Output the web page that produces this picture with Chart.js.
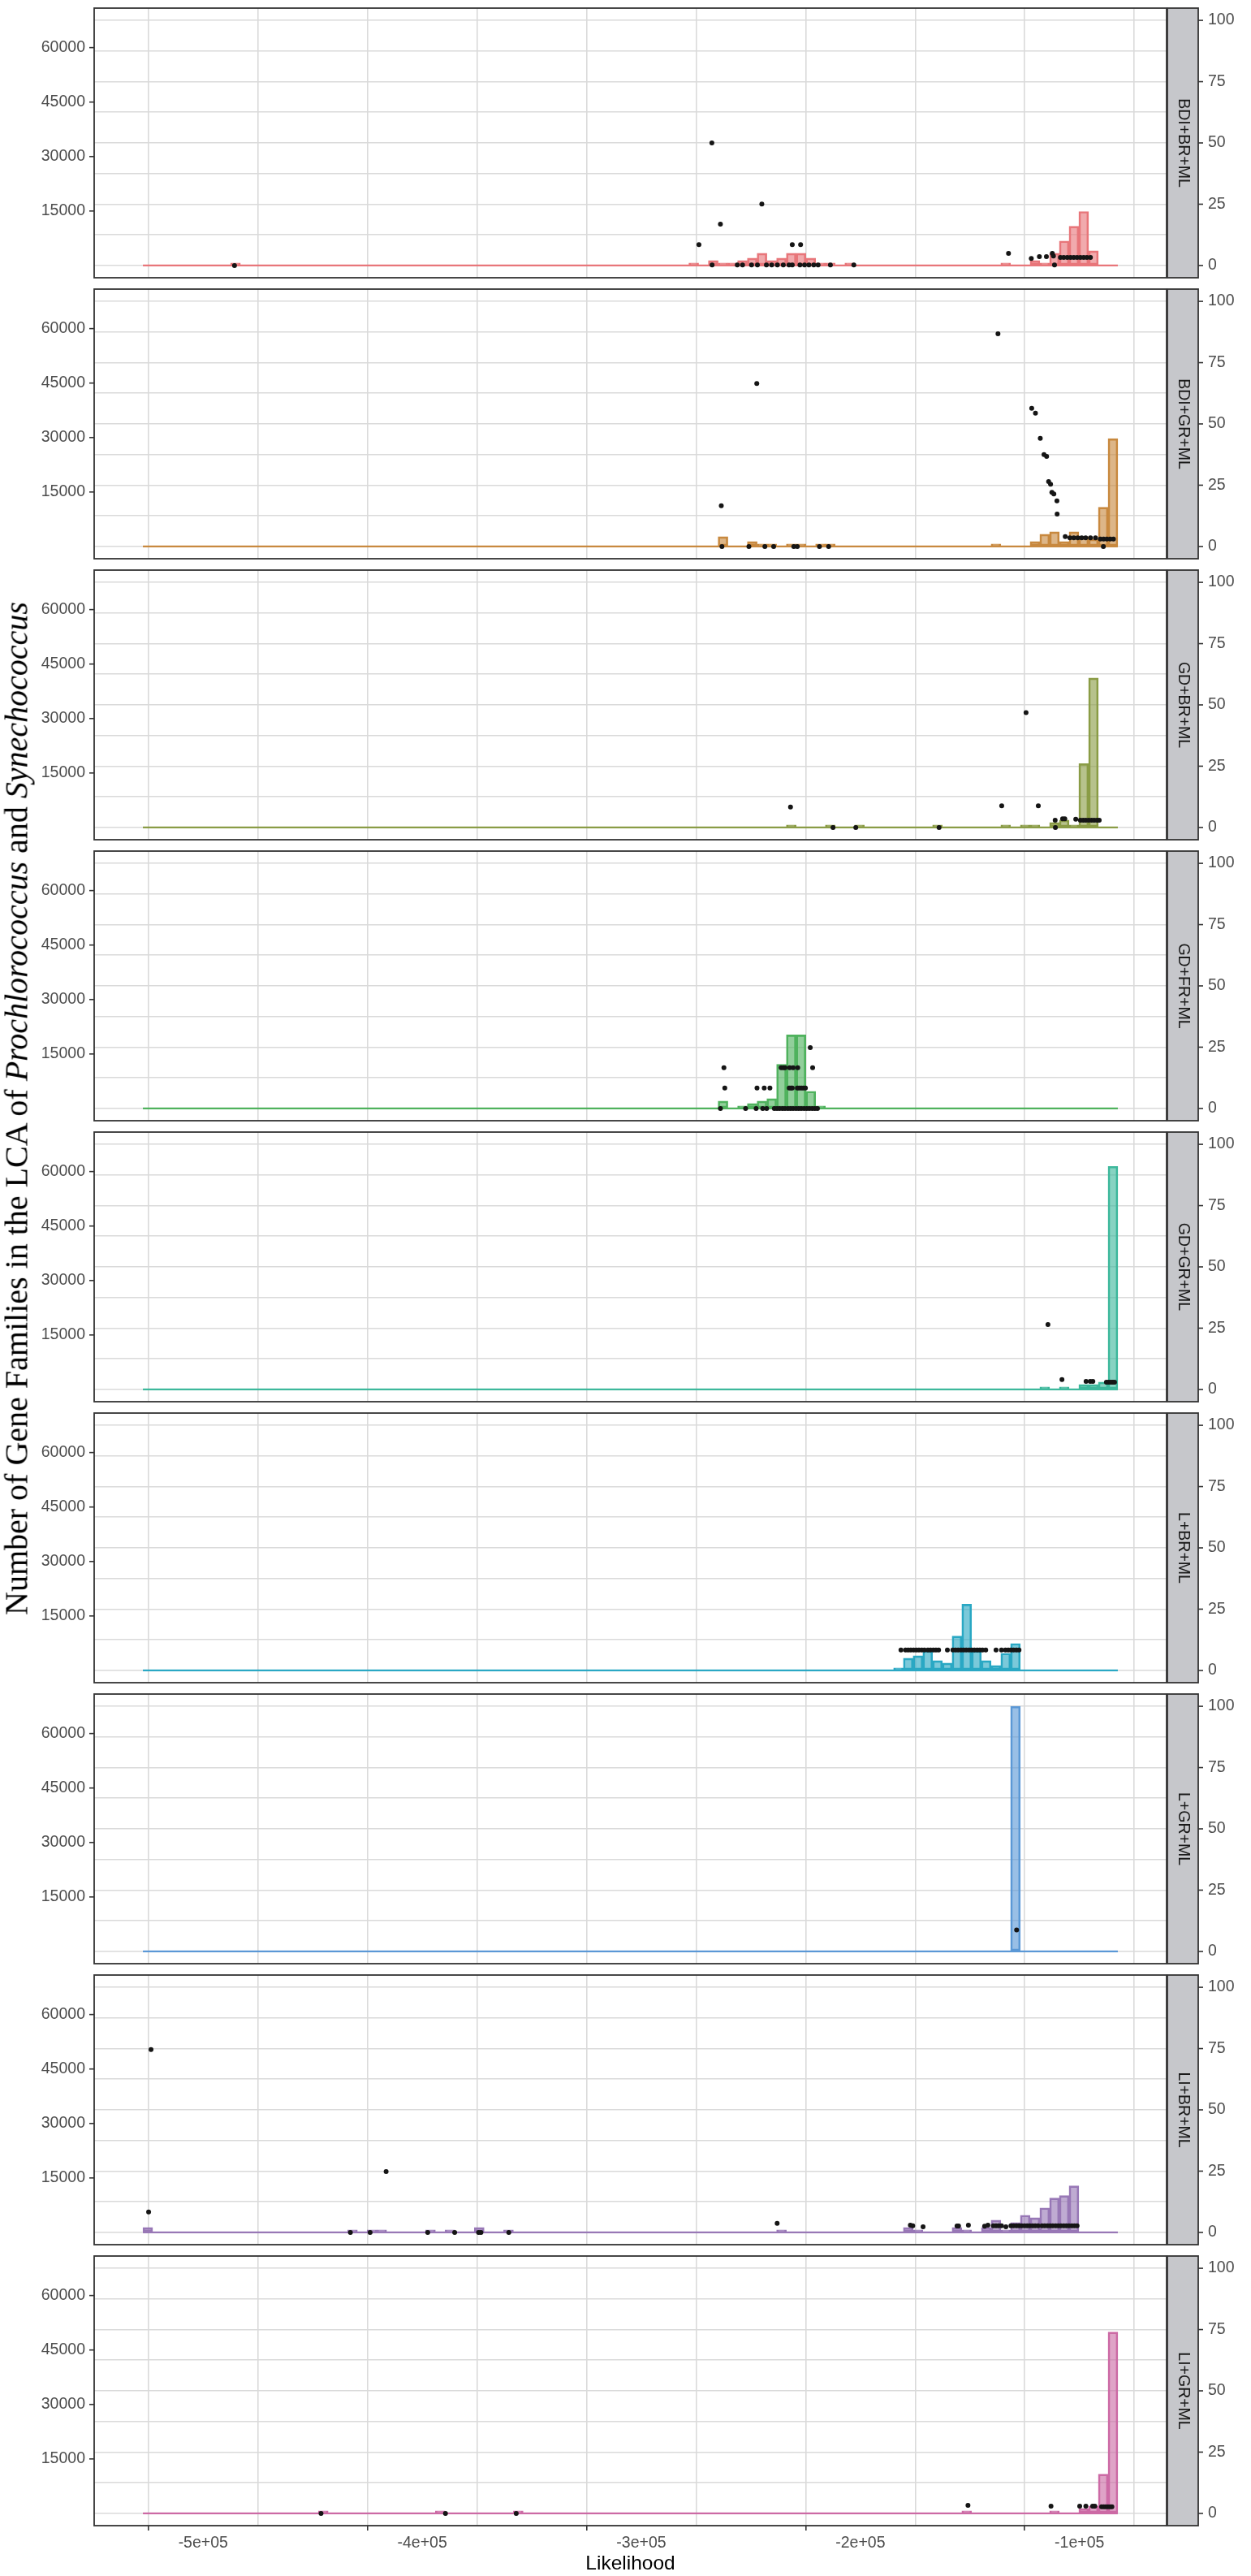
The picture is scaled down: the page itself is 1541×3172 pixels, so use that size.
<!DOCTYPE html>
<html>
<head>
<meta charset="utf-8">
<script src="https://cdn.jsdelivr.net/npm/chart.js@4.4.1/dist/chart.umd.min.js"></script>
<style>
  html, body { margin: 0; padding: 0; background: #fff; }
  #page { position: relative; width: 1541px; height: 3172px; overflow: hidden; }
  #page canvas { position: absolute; left: 0; }
  #ytitle {
    position: absolute; left: 20px; top: 1365px; z-index: 5;
    transform: translate(-50%, -50%) rotate(-90deg);
    white-space: nowrap; font: 40px 'Liberation Serif', 'Times New Roman', serif; color: #000;
  }
</style>
</head>
<body>
<div id="page">
  <div id="ytitle">Number of Gene Families in the LCA of <i>Prochlorococcus</i> and <i>Synechococcus</i></div>
</div>
<script>
// histogram bins (likelihood)
const histStart = -527500;
const binWidth = 4450;
const binCount = 100;

const panelNames = ['BDI+BR+ML', 'BDI+GR+ML', 'GD+BR+ML', 'GD+FR+ML', 'GD+GR+ML',
                    'L+BR+ML', 'L+GR+ML', 'LI+BR+ML', 'LI+GR+ML'];

const xTicks = [-500000, -400000, -300000, -200000, -100000];
const xTickLabels = ['-5e+05', '-4e+05', '-3e+05', '-2e+05', '-1e+05'];
const xMinorTicks = [-450000, -350000, -250000, -150000];
const rightTicks = [0, 25, 50, 75, 100];
const rightMinorTicks = [12.5, 37.5, 62.5, 87.5];
const leftTicks = [15000, 30000, 45000, 60000];

// histogram counts: [bin index, count]
const barsBdiBr = [[9,1],[56,1],[58,2],[59,1],[60,1],[61,2],[62,3],[63,5],[64,2],[65,3],[66,5],[67,5],
  [68,3],[69,1],[70,1],[72,1],[88,1],[91,2],[92,1],[93,5],[94,10],[95,16],[96,22],[97,6]];
const barsBdiGr = [[59,4],[62,2],[63,1],[64,1],[66,1],[67,1],[69,1],[70,1],[87,1],[91,2],[92,5],[93,6],
  [94,2],[95,6],[96,4],[97,3],[98,16],[99,44]];
const barsGdBr = [[66,1],[70,1],[73,1],[81,1],[88,1],[90,1],[91,1],[93,2],[94,3],[95,1],[96,26],[97,61]];
const barsGdFr = [[59,3],[61,1],[62,2],[63,3],[64,4],[65,18],[66,30],[67,30],[68,7],[69,1]];
const barsGdGr = [[92,1],[94,1],[96,2],[97,2],[98,3],[99,91]];
const barsLBr = [[77,1],[78,5],[79,6],[80,8],[81,4],[82,3],[83,14],[84,27],[85,8],[86,4],[87,2],[88,7],[89,11]];
const barsLGr = [[89,100]];
const barsLiBr = [[0,2],[21,1],[23,1],[24,1],[29,1],[31,1],[34,2],[37,1],[65,1],[78,2],[79,1],[83,2],[84,1],
  [86,2],[87,5],[88,1],[89,4],[90,7],[91,6],[92,10],[93,14],[94,15],[95,19]];
const barsLiGr = [[18,1],[30,1],[38,1],[84,1],[93,1],[96,2],[97,3],[98,16],[99,74]];

// gene families: [likelihood, number of gene families]
const ptsBdiBr = [[-485700,0],[-273700,5760],[-267800,33750],[-267700,150],[-263900,11370],[-245000,16910],
  [-231100,5760],[-227300,5760],[-256200,150],[-253800,150],[-249700,150],[-247000,150],[-242900,150],
  [-240500,150],[-237900,150],[-235200,150],[-232600,150],[-231100,150],[-227600,150],[-225500,150],
  [-223500,150],[-221300,150],[-219300,150],[-213700,150],[-203000,150],[-132400,3320],[-122000,1920],
  [-118300,2440],[-115100,2440],[-112400,3320],[-111400,150],[-111900,2580],[-108700,2215],[-107200,2215],
  [-105600,2215],[-104100,2215],[-102600,2215],[-101100,2215],[-99600,2215],[-98100,2215],[-96600,2215],
  [-95000,2215]];
const ptsBdiGr = [[-263500,11225],[-263200,0],[-247300,44900],[-250900,0],[-243600,0],[-239600,0],
  [-230400,0],[-228800,0],[-218700,0],[-214500,0],[-137200,58560],[-121800,38030],[-120100,36700],
  [-117900,29760],[-116200,25330],[-115000,24810],[-114100,17870],[-113200,17130],[-112600,14920],
  [-111700,14470],[-110300,12550],[-110200,8940],[-106500,2730],[-104400,2360],[-102600,2360],
  [-100800,2360],[-99000,2360],[-97200,2360],[-95000,2360],[-92700,2360],[-90500,2070],[-89000,2070],
  [-87500,2070],[-86000,2070],[-84500,2070],[-89100,0]];
const ptsGdBr = [[-231900,5610],[-212500,0],[-202100,0],[-164100,0],[-135500,5980],[-124400,31610],
  [-118800,5980],[-111100,1990],[-111000,0],[-107700,2360],[-106700,2360],[-101700,2290],[-99600,1990],
  [-98300,1990],[-97100,1990],[-95800,1990],[-94500,1990],[-93300,1990],[-92000,1990],[-91000,1990]];
const ptsGdFr = [[-262300,11225],[-261900,5610],[-263900,0],[-252400,0],[-247600,0],[-244600,0],
  [-242800,0],[-247200,5610],[-243900,5610],[-241300,5610],[-239300,0],[-238100,0],[-236900,0],
  [-235600,0],[-234400,0],[-233100,0],[-231900,0],[-230700,0],[-229400,0],[-228200,0],[-227000,0],
  [-225700,0],[-224500,0],[-223300,0],[-222000,0],[-220800,0],[-219600,0],[-236200,11225],
  [-235200,11225],[-234400,11225],[-232300,11225],[-230700,11225],[-228600,11225],[-232500,5610],
  [-231700,5610],[-231100,5610],[-228800,5610],[-228000,5610],[-227000,5610],[-226100,5610],
  [-225100,5610],[-222900,16760],[-221800,11225]];
const ptsGdGr = [[-114400,17870],[-108000,2730],[-97000,2215],[-95100,2215],[-93900,2215],[-87700,1990],
  [-86700,1990],[-85700,1990],[-84800,1990],[-84000,1990]];
const ptsLBr = [[-181500,5610],[-179400,5610],[-178200,5610],[-177000,5610],[-175700,5610],[-174500,5610],
  [-173300,5610],[-172000,5610],[-170800,5610],[-169200,5610],[-168000,5610],[-166700,5610],
  [-165500,5610],[-164300,5610],[-160300,5610],[-157800,5610],[-156600,5610],[-155400,5610],
  [-154100,5610],[-152900,5610],[-151700,5610],[-150400,5610],[-149200,5610],[-148000,5610],
  [-146700,5610],[-145500,5610],[-144300,5610],[-142800,5610],[-138100,5610],[-135600,5610],
  [-133800,5610],[-132500,5610],[-131300,5610],[-130100,5610],[-128800,5610],[-127600,5610]];
const ptsLGr = [[-128700,5930]];
const ptsLiBr = [[-523800,50370],[-524900,5610],[-432800,0],[-423800,0],[-416500,16760],[-397500,0],
  [-385200,0],[-374300,0],[-373200,0],[-360500,0],[-238000,2500],[-177200,1990],[-176100,1850],
  [-171400,1550],[-155900,1770],[-155200,1770],[-150700,1990],[-143300,1700],[-141800,1990],
  [-139300,1850],[-138100,1850],[-136900,1850],[-135600,1850],[-133600,1550],[-131300,1850],
  [-130100,1850],[-128800,1850],[-127600,1850],[-126400,1850],[-125100,1850],[-123900,1850],
  [-122700,1850],[-121400,1850],[-120200,1850],[-118900,1850],[-117100,1850],[-115900,1850],
  [-114600,1850],[-113400,1850],[-112200,1850],[-110900,1850],[-109700,1850],[-108500,1850],
  [-107200,1850],[-106000,1850],[-104800,1850],[-103500,1850],[-102300,1850],[-101100,1850]];
const ptsLiGr = [[-446200,0],[-389400,0],[-357100,0],[-150900,2215],[-113000,1990],[-99900,1990],
  [-97100,1990],[-94000,1990],[-93000,1990],[-89900,1850],[-88900,1850],[-88000,1850],[-87000,1850],
  [-86000,1850],[-85200,1850]];

const panelBars = [barsBdiBr, barsBdiGr, barsGdBr, barsGdFr, barsGdGr, barsLBr, barsLGr, barsLiBr, barsLiGr];
const panelPoints = [ptsBdiBr, ptsBdiGr, ptsGdBr, ptsGdFr, ptsGdGr, ptsLBr, ptsLGr, ptsLiBr, ptsLiGr];
const panelColors = ['#e8767a', '#c8893f', '#8a9c46', '#4fb25d', '#3db89c', '#2aa8c4', '#5b98d6', '#9878b6', '#cc6aa5'];

// secondary (left) axis is the bar axis scaled by this factor
const leftFactor = 675;
const rightMin = -5, rightMax = 105;

const STRIP_W = 39;      // facet strip width
const TICK_LEN = 6;
const LABEL_FONT = "19.5px 'Liberation Sans', Arial, sans-serif";

Chart.defaults.font.family = "'Liberation Sans', Arial, sans-serif";
Chart.defaults.font.size = 19.5;
Chart.defaults.color = '#4d4d4d';

function rgba(hex, a) {
  const n = parseInt(hex.slice(1), 16);
  return 'rgba(' + (n >> 16) + ',' + ((n >> 8) & 255) + ',' + (n & 255) + ',' + a + ')';
}

function binSeries(bars) {
  const counts = new Array(binCount).fill(0);
  bars.forEach(function (b) { counts[b[0]] = b[1]; });
  return counts.map(function (n, i) { return { x: histStart + (i + 0.5) * binWidth, y: n }; });
}

// panel border, facet strip, and the y tick marks / labels on both sides
const panelFrame = {
  id: 'panelFrame',
  afterDraw(chart, args, opts) {
    const ctx = chart.ctx, a = chart.chartArea, ys = chart.scales.y, yl = chart.scales.yL;
    const sl = a.right + 1, sr = a.right + STRIP_W;
    ctx.save();
    ctx.fillStyle = '#c6c7cb';
    ctx.fillRect(sl, a.top, sr - sl, a.bottom - a.top);
    ctx.lineWidth = 1.8;
    ctx.strokeStyle = '#333333';
    ctx.strokeRect(a.left, a.top, a.right - a.left, a.bottom - a.top);
    ctx.strokeRect(sl, a.top, sr - sl, a.bottom - a.top);

    ctx.lineWidth = 1.6;
    ctx.font = LABEL_FONT;
    ctx.fillStyle = '#4d4d4d';
    ctx.textBaseline = 'middle';
    ctx.textAlign = 'left';
    rightTicks.forEach(function (v) {
      const py = ys.getPixelForValue(v);
      ctx.beginPath(); ctx.moveTo(sr, py); ctx.lineTo(sr + TICK_LEN, py); ctx.stroke();
      ctx.fillText(String(v), sr + TICK_LEN + 6, py);
    });
    ctx.textAlign = 'right';
    leftTicks.forEach(function (v) {
      const py = yl.getPixelForValue(v);
      ctx.beginPath(); ctx.moveTo(a.left - TICK_LEN, py); ctx.lineTo(a.left, py); ctx.stroke();
      ctx.fillText(String(v), a.left - TICK_LEN - 5, py);
    });

    ctx.translate((sl + sr) / 2, (a.top + a.bottom) / 2);
    ctx.rotate(Math.PI / 2);
    ctx.fillStyle = '#1a1a1a';
    ctx.textAlign = 'center';
    ctx.fillText(opts.label, 0, 0);
    ctx.restore();
  }
};

const page = document.getElementById('page');
const gridColor = '#dadada';
const tickMarkColor = '#333333';

panelNames.forEach(function (name, p) {
  const last = p === panelNames.length - 1;
  const canvas = document.createElement('canvas');
  canvas.width = 1541;
  canvas.height = last ? 404 : 346;
  canvas.style.top = (346 * p) + 'px';
  page.appendChild(canvas);

  const color = panelColors[p];
  new Chart(canvas, {
    type: 'bar',
    data: {
      datasets: [
        {
          type: 'scatter', data: panelPoints[p].map(function (d) { return { x: d[0], y: d[1] }; }),
          yAxisID: 'yL', pointRadius: 3, pointBackgroundColor: '#151515', pointBorderWidth: 0, order: 0
        },
        {
          type: 'line', data: [{ x: histStart, y: 0 }, { x: histStart + binCount * binWidth, y: 0 }],
          yAxisID: 'y', borderColor: color, borderWidth: 2.2, pointRadius: 0, order: 1
        },
        {
          type: 'bar', data: binSeries(panelBars[p]), yAxisID: 'y',
          backgroundColor: rgba(color, 0.62), borderColor: color, borderWidth: 2, borderSkipped: false,
          barPercentage: 1, categoryPercentage: 1, grouped: false, order: 2
        }
      ]
    },
    options: {
      responsive: false, animation: false, devicePixelRatio: 1,
      layout: { padding: { top: 10, bottom: last ? 0 : 4, left: 0, right: 0 } },
      plugins: { legend: { display: false }, tooltip: { enabled: false }, panelFrame: { label: name } },
      scales: {
        x: {
          type: 'linear', position: 'bottom', offset: false,
          min: -549750, max: -60250,
          afterBuildTicks: function (s) {
            s.ticks = xTicks.concat(xMinorTicks).sort(function (a, b) { return a - b; })
              .map(function (v) { return { value: v }; });
          },
          afterFit: function (s) { s.height = last ? 62 : 0; },
          ticks: {
            display: last, autoSkip: false, maxRotation: 0, padding: 4, color: '#4d4d4d',
            callback: function (v) { const k = xTicks.indexOf(v); return k >= 0 ? xTickLabels[k] : ''; }
          },
          grid: {
            color: gridColor, lineWidth: 1.6, drawTicks: last, tickLength: TICK_LEN, tickWidth: 1.6,
            tickColor: function (c) { return c.tick && xTicks.indexOf(c.tick.value) >= 0 ? tickMarkColor : 'rgba(0,0,0,0)'; }
          },
          border: { display: false },
          title: { display: last, text: 'Likelihood', color: '#000', font: { size: 24.5 }, padding: { top: 0, bottom: 0 } }
        },
        yL: {
          type: 'linear', position: 'left',
          min: rightMin * leftFactor, max: rightMax * leftFactor,
          afterBuildTicks: function (s) { s.ticks = leftTicks.map(function (v) { return { value: v }; }); },
          afterFit: function (s) { s.width = 116; },
          ticks: { display: false },
          grid: { display: false },
          border: { display: false }
        },
        y: {
          type: 'linear', position: 'right',
          min: rightMin, max: rightMax,
          afterBuildTicks: function (s) {
            s.ticks = rightTicks.concat(rightMinorTicks).sort(function (a, b) { return a - b; })
              .map(function (v) { return { value: v }; });
          },
          afterFit: function (s) { s.width = 104; },
          ticks: { display: false },
          grid: { color: gridColor, lineWidth: 1.6, drawTicks: false },
          border: { display: false }
        }
      }
    },
    plugins: [panelFrame]
  });
});
</script>
</body>
</html>
